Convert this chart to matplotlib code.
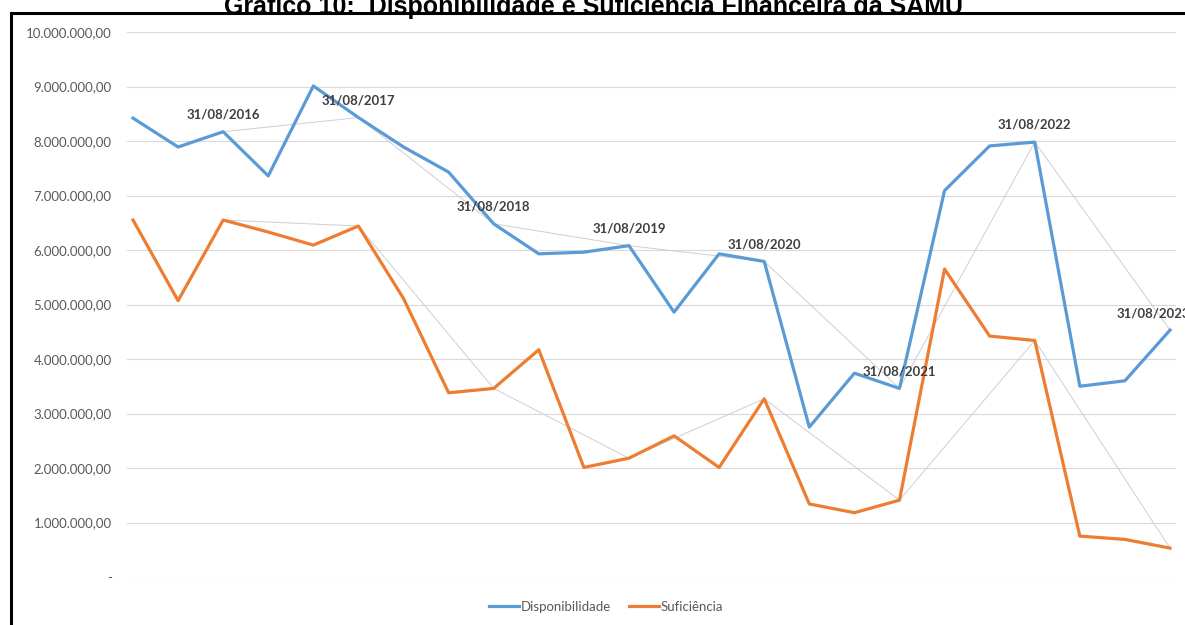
import matplotlib

matplotlib.use("Agg")
import matplotlib.pyplot as plt
from matplotlib.lines import Line2D
from matplotlib.ticker import FuncFormatter

# quarterly-ish readings (every 4 months), Aug values get a date label
disponibilidade = [8.42, 7.89, 8.17, 7.36, 9.01, 8.43, 7.89, 7.43, 6.48, 5.93, 5.96, 6.08,
                   4.86, 5.93, 5.79, 2.75, 3.74, 3.46, 7.09, 7.91, 7.98, 3.50, 3.60, 4.53]
suficiencia = [6.55, 5.07, 6.55, 6.33, 6.09, 6.44, 5.11, 3.38, 3.46, 4.17, 2.01, 2.18,
               2.59, 2.01, 3.27, 1.34, 1.18, 1.41, 5.65, 4.42, 4.34, 0.75, 0.69, 0.53]
annual_idx = [2, 5, 8, 11, 14, 17, 20, 23]
annual_labels = ["31/08/2016", "31/08/2017", "31/08/2018", "31/08/2019",
                 "31/08/2020", "31/08/2021", "31/08/2022", "31/08/2023"]
yticks = [0, 1, 2, 3, 4, 5, 6, 7, 8, 9, 10]

BLUE = "#5B9BD5"
ORANGE = "#ED7D31"
FONT = ["Lato", "DejaVu Sans"]


def br_fmt(v, _pos):
    if v == 0:
        return "-"
    s = f"{v * 1e6:,.2f}"
    return s.replace(",", "X").replace(".", ",").replace("X", ".")


def main() -> None:
    fig = plt.figure(figsize=(11.85, 6.25), dpi=100)
    ax = fig.add_axes([127 / 1185, 1 - 577 / 625, (1176 - 127) / 1185, (577 - 32) / 625])

    x = list(range(len(disponibilidade)))
    ax.plot(x, disponibilidade, color=BLUE, lw=2.3, label="Disponibilidade", zorder=3)
    ax.plot(x, suficiencia, color=ORANGE, lw=2.3, label="Suficiência", zorder=3)

    # thin grey lines joining the annual (31/08) readings
    ax.plot(annual_idx, [disponibilidade[i] for i in annual_idx], color="#CFCFCF", lw=0.7, zorder=2)
    ax.plot(annual_idx, [suficiencia[i] for i in annual_idx], color="#CFCFCF", lw=0.7, zorder=2)
    for k, (i, lab) in enumerate(zip(annual_idx, annual_labels)):
        dx = -12 if k == len(annual_idx) - 1 else 0  # last one nudged in like excel does
        ax.annotate(lab, (i, disponibilidade[i]), xytext=(dx, 8), textcoords="offset points",
                    ha="center", va="bottom", fontsize=9.5, fontweight="bold",
                    color="#404040", family=FONT, annotation_clip=False, zorder=4)

    ax.set_xlim(-0.133, 23.133)
    ax.set_ylim(0, 10)
    ax.set_yticks(yticks)
    ax.yaxis.set_major_formatter(FuncFormatter(br_fmt))
    ax.set_xticks([])
    ax.grid(axis="y", color="#D9D9D9", lw=0.8)
    ax.set_axisbelow(True)
    for s in ax.spines.values():
        s.set_visible(False)
    ax.tick_params(axis="y", length=0, pad=11, labelsize=9.5, labelcolor="#595959")
    for t in ax.get_yticklabels():
        t.set_family(FONT)

    leg = fig.legend(loc="center", bbox_to_anchor=(606 / 1185, 1 - 607 / 625), ncol=2,
                     frameon=False, prop={"family": FONT, "size": 9.5}, handlelength=2.3,
                     handletextpad=0.1, columnspacing=1.4)
    for t in leg.get_texts():
        t.set_color("#595959")

    # page frame + clipped title from the source document
    fig.add_artist(Line2D([11 / 1185, 1.0], [1 - 13 / 625, 1 - 13 / 625], color="black", lw=2.2))
    fig.add_artist(Line2D([11 / 1185, 11 / 1185], [0, 1 - 13 / 625], color="black", lw=2.2))
    fig.text(593 / 1185, 1 - 14 / 625, "Gráfico 10:  Disponibilidade e Suficiência Financeira da SAMU",
             ha="center", va="baseline", fontsize=18, fontweight="bold",
             family=["Liberation Sans", "DejaVu Sans"])

    fig.savefig("out.png", dpi=100)


if __name__ == "__main__":
    main()
